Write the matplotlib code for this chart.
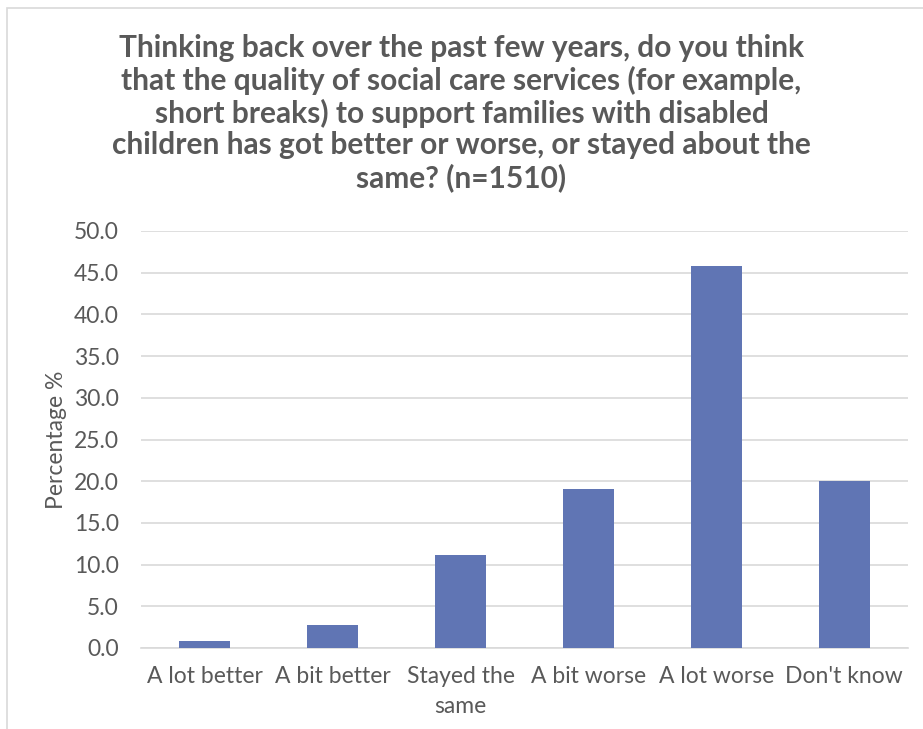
# Libs
import matplotlib
matplotlib.use('Agg')
import matplotlib.pyplot as plt
from matplotlib.patches import Rectangle

# Data
categories = ['A lot better', 'A bit better', 'Stayed the\nsame', 'A bit worse', 'A lot worse', "Don't know"]
percentages = [0.8, 2.8, 11.2, 19.1, 45.8, 20.0]
yticks = [0, 5, 10, 15, 20, 25, 30, 35, 40, 45, 50]

title = ('Thinking back over the past few years, do you think\n'
         'that the quality of social care services (for example,\n'
         'short breaks) to support families with disabled\n'
         'children has got better or worse, or stayed about the\n'
         'same? (n=1510)')

textGrey = '#595959'
barBlue = '#6075B4'

plt.rcParams['font.family'] = ['Lato', 'DejaVu Sans']

fig = plt.figure(figsize=(9.23, 7.29), dpi=100)
ax = fig.add_axes([141/923, 1 - 648/729, (908 - 141)/923, (648 - 231)/729])

# light frame around the chart area (only top and left visible in the source)
fig.patches.append(Rectangle((7/923, -0.1), 1.2, 1 - 8/729 + 0.1, transform=fig.transFigure,
                             fill=False, edgecolor='#d9d9d9', linewidth=1.2))

ax.bar(range(len(categories)), percentages, width=0.4, color=barBlue, zorder=3)

ax.set_xlim(-0.5, len(categories) - 0.5)
ax.set_ylim(0, 50)
ax.set_yticks(yticks)
ax.set_yticklabels([f'{t:.1f}' for t in yticks])
ax.set_xticks(range(len(categories)))
ax.set_xticklabels(categories, linespacing=1.5)

ax.grid(axis='y', color='#d9d9d9', linewidth=1.2, zorder=0)
for side in ['top', 'right', 'left']:
    ax.spines[side].set_visible(False)
ax.spines['bottom'].set_color('#d9d9d9')
ax.spines['bottom'].set_linewidth(1.2)
ax.tick_params(axis='both', length=0, labelsize=16.5, colors=textGrey)
ax.tick_params(axis='x', pad=13)
ax.tick_params(axis='y', pad=16)

ax.set_ylabel('Percentage %', fontsize=16.5, color=textGrey, labelpad=5)

fig.text(0.5, 1 - 113/729, title, ha='center', va='center', fontsize=21.5,
         fontweight='bold', color=textGrey, linespacing=1.15)

plt.savefig('out.png', dpi=100)
